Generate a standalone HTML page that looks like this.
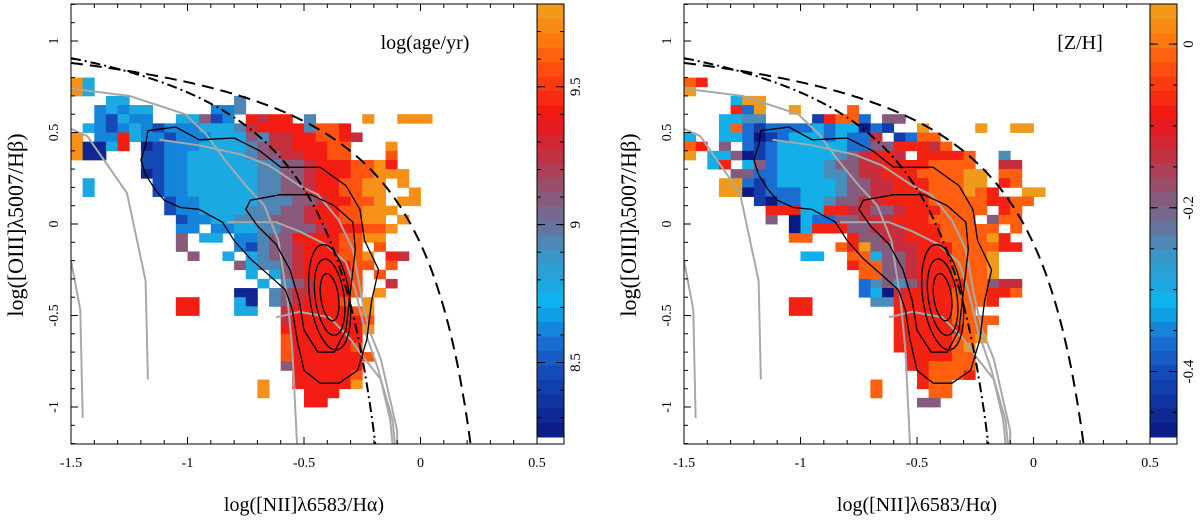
<!DOCTYPE html>
<html><head><meta charset="utf-8"><style>
html,body{margin:0;padding:0;background:#fff;}
svg{display:block;font-family:"Liberation Serif",serif;}
</style></head><body>
<svg id="fig" width="1200" height="524" viewBox="0 0 1200 524"></svg>
<script>
// ---- data ----
const xTicks = [-1.5, -1, -0.5, 0, 0.5];
const xTickLabels = ["-1.5", "-1", "-0.5", "0", "0.5"];
const yTicks = [1, 0.5, 0, -0.5, -1];
const yTickLabels = ["1", "0.5", "0", "-0.5", "-1"];
const ageCbTicks = [8.5, 9, 9.5];
const ageCbLabels = ["8.5", "9", "9.5"];
const zCbTicks = [-0.4, -0.2, 0];
const zCbLabels = ["-0.4", "-0.2", "0"];
const ageRange = [8.23, 9.80];
const zRange = [-0.48, 0.049];
// heatmap grids: each row = list of [startColumn, digit string]; digit -> colour level
const ageGrid = [
 [[0,"93"]],[[0,"93"]],[[3,"33"],[14,"4"]],[[2,"23233"],[12,"224"]],
 [[2,"21322"],[9,"33512"],[15,"7677"],[20,"4"],[25,"9"],[28,"999"]],
 [[1,"3212321222333"],[14,"4677774887"]],
 [[0,"9"],[2,"2273221222333"],[15,"5466778876"]],
 [[0,"9"],[1,"00"],[3,"37"],[6,"0122233334"],[16,"56677788"],[27,"9"]],
 [[0,"9"],[1,"00"],[6,"11223333345"],[17,"5667788"],[27,"8"]],
 [[6,"112233333344556777889"],[27,"7"]],
 [[6,"0122333333445567778899"],[28,"9"]],
 [[1,"3"],[7,"1223333334455677889"],[26,"9"],[28,"9"]],
 [[1,"3"],[7,"12233333344556778899"],[29,"9"]],
 [[8,"1223333344455677889"],[28,"99"]],
 [[8,"12233334445567788999"]],
 [[9,"122334445556778899"],[28,"9"]],
 [[9,"22"],[12,"2233445556777889"]],
 [[9,"5"],[11,"33"],[14,"22"],[16,"4557777889"],[26,"9"]],
 [[9,"5"],[14,"21"],[16,"455677788"],[26,"8"]],
 [[10,"5"],[13,"3"],[15,"34556777889"],[27,"76"]],
 [[14,"53"],[16,"4456777788"],[27,"8"]],
 [[15,"3"],[17,"35677778"],[26,"8"]],
 [[16,"3"],[18,"4567778"],[27,"6"]],
 [[14,"00"],[17,"45667778"],[26,"9"]],
 [[9,"77"],[14,"30"],[17,"4567778"],[25,"9"]],
 [[9,"77"],[14,"33"],[18,"6777778"],[25,"9"]],
 [[18,"67777778"]],[[18,"7777777"],[25,"9"]],[[18,"8777777"]],[[18,"8777778"]],
 [[18,"87777778"]],[[18,"5777777"]],[[19,"777778"]],[[16,"9"],[19,"777779"]],
 [[16,"9"],[20,"777"]],[[20,"77"]]
];
const zGrid = [
 [[0,"87"]],[[0,"9"]],[[4,"399"]],[[4,"729"],[9,"9"],[14,"8"]],
 [[3,"3344"],[11,"1788"],[15,"2"],[17,"55"]],
 [[3,"38212222323"],[14,"3021"],[20,"9"],[25,"9"],[28,"99"]],
 [[0,"3"],[3,"3320"],[7,"123332322"],[16,"6"],[18,"12"],[20,"88"]],
 [[0,"8"],[1,"7"],[3,"5"],[5,"2"],[6,"1233333322"],[16,"557776"],[22,"8"]],
 [[0,"9"],[2,"3"],[3,"35"],[5,"0"],[6,"1233333456776"],[20,"77778"],[27,"4"]],
 [[2,"37"],[5,"35"],[7,"233334556677778888"],[27,"66"]],
 [[4,"55"],[6,"22333344566777888899"],[27,"88"]],
 [[3,"99"],[5,"2"],[6,"12333334556677788899"],[27,"78"]],
 [[3,"99"],[5,"01"],[7,"22233345566777888987"],[29,"99"]],
 [[6,"1"],[7,"022334556677778888877"],[28,"88"]],
 [[7,"7773377665567778888"],[27,"78"]],
 [[7,"5"],[9,"0322556667778888"],[26,"5"],[27,"88"]],
 [[9,"03"],[11,"777"],[14,"5566677788888"],[28,"8"]],
 [[9,"88"],[14,"7556677788889"],[27,"7"]],
 [[13,"8"],[14,"79"],[16,"55667778888"],[27,"77"]],
 [[10,"33"],[14,"88"],[16,"3556777888"],[26,"9"]],
 [[14,"7"],[15,"88"],[17,"556777888"],[26,"9"]],
 [[15,"88"],[17,"556777888"],[26,"9"]],
 [[15,"2"],[16,"4545677788"],[26,"5"],[27,"66"]],
 [[15,"230"],[18,"67777888"],[26,"778"]],
 [[9,"77"],[16,"44"],[18,"77777888"],[26,"7"]],
 [[9,"77"],[18,"7777788"]],
 [[18,"77777888"],[26,"8"]],[[18,"7777778"],[25,"8"]],[[18,"77777889"]],
 [[18,"7777789"]],[[19,"777788"]],[[19,"778888"]],[[20,"78887"]],
 [[16,"8"],[20,"788"]],[[16,"8"],[21,"88"]],[[20,"55"]]
];
// grey model grids and contours (data coordinates)
const greyLines = [
 [[-1.5,0.74],[-1.25,0.70],[-1.01,0.60],[-0.92,0.49],[-0.84,0.35],[-0.75,0.21],[-0.67,0.10],[-0.61,-0.09],[-0.57,-0.42],[-0.55,-0.69],[-0.53,-1.2]],
 [[-1.12,0.46],[-0.95,0.43],[-0.77,0.38],[-0.65,0.32],[-0.52,0.21],[-0.44,0.16],[-0.35,0.02],[-0.29,-0.14],[-0.25,-0.42],[-0.22,-0.58],[-0.17,-0.74],[-0.10,-1.13],[-0.10,-1.2]],
 [[-0.83,0.01],[-0.62,0.01],[-0.52,-0.04],[-0.41,-0.11],[-0.32,-0.21],[-0.28,-0.36],[-0.24,-0.58],[-0.18,-0.80],[-0.13,-1.07],[-0.12,-1.2]],
 [[-0.62,-0.51],[-0.52,-0.48],[-0.39,-0.51],[-0.30,-0.63],[-0.25,-0.72],[-0.17,-0.85],[-0.12,-1.07],[-0.11,-1.2]],
 [[-1.5,0.52],[-1.43,0.48],[-1.26,0.17],[-1.18,-0.31],[-1.17,-0.85]],
 [[-1.5,-0.20],[-1.46,-0.47],[-1.45,-1.06]]
];
const contourOuter = [[-1.17,0.51],[-1.05,0.53],[-0.95,0.46],[-0.80,0.47],[-0.69,0.40],[-0.60,0.31],[-0.43,0.31],[-0.32,0.21],[-0.26,0.08],[-0.24,-0.09],[-0.18,-0.25],[-0.21,-0.42],[-0.23,-0.63],[-0.27,-0.80],[-0.35,-0.87],[-0.43,-0.87],[-0.50,-0.80],[-0.53,-0.63],[-0.55,-0.47],[-0.58,-0.36],[-0.65,-0.28],[-0.73,-0.19],[-0.80,-0.09],[-0.85,0.01],[-0.95,0.08],[-1.03,0.09],[-1.10,0.13],[-1.14,0.19],[-1.18,0.27],[-1.20,0.35],[-1.18,0.43]];
const contourMid = [[-0.73,0.13],[-0.60,0.16],[-0.47,0.16],[-0.37,0.10],[-0.29,0.01],[-0.28,-0.14],[-0.30,-0.36],[-0.32,-0.58],[-0.37,-0.70],[-0.44,-0.70],[-0.50,-0.58],[-0.52,-0.42],[-0.56,-0.25],[-0.62,-0.11],[-0.70,-0.01],[-0.75,0.08]];
const coreCenter = [-0.39, -0.40];
const coreRadii = [[0.085,0.29],[0.062,0.21],[0.038,0.13]];

// ---- geometry ----
const SVGNS = "http://www.w3.org/2000/svg";
const svg = document.getElementById("fig");
const PW = 466, PT = 4, PB = 444;
function mk(tag, attrs, parent) {
  const e = document.createElementNS(SVGNS, tag);
  for (const k in attrs) e.setAttribute(k, attrs[k]);
  (parent || svg).appendChild(e);
  return e;
}
const stops = [[0,[11,25,130]],[0.14,[20,70,180]],[0.22,[26,110,210]],[0.31,[10,180,240]],[0.42,[60,150,200]],[0.50,[110,110,150]],[0.58,[150,80,110]],[0.66,[200,45,60]],[0.74,[240,20,20]],[0.84,[255,70,15]],[0.93,[255,130,15]],[1,[235,160,30]]];
function cmap(t) {
  t = Math.max(0, Math.min(1, t));
  for (let i = 1; i < stops.length; i++) {
    if (t <= stops[i][0]) {
      const a = stops[i-1], b = stops[i], f = (t - a[0]) / (b[0] - a[0]);
      const c = a[1].map((v, k) => Math.round(v + (b[1][k] - v) * f));
      return `rgb(${c[0]},${c[1]},${c[2]})`;
    }
  }
  return "rgb(235,160,30)";
}

function drawPanel(ox, grid, digitToValue, range, cbTicks, cbLabels, cbMinorStep, label, labelX, name) {
  const L = 71 + ox, R = L + PW;
  const sx = x => L + (x + 1.5) * 233;
  const sy = y => 224 - y * 183;
  const g = mk("g", {});
  
  
  const clipId = "clip" + name;
  const cp = mk("clipPath", {id: clipId}, g);
  mk("rect", {x: L, y: PT, width: PW, height: PB - PT}, cp);
  const hm = mk("g", {"clip-path": `url(#${clipId})`}, g);
  
  
  grid.forEach((row, j) => {
    row.forEach(seg => {
      const start = seg[0], s = seg[1];
      for (let i = 0; i < s.length; i++) {
        const col = start + i, d = +s[i];
        const v = digitToValue(d);
        const x0 = -1.5 + 0.05 * col, y1 = 0.8 - 0.05 * j;
        const r = mk("rect", {x: sx(x0), y: sy(y1), width: 0.05 * 233 + 0.4, height: 0.05 * 183 + 0.4, fill: cmap((v - range[0]) / (range[1] - range[0]))}, hm);
        
        
      }
    });
  });
  const lines = mk("g", {"clip-path": `url(#${clipId})`, fill: "none"}, g);
  const pathOf = (pts, close) => pts.map((p, i) => (i ? "L" : "M") + sx(p[0]).toFixed(1) + "," + sy(p[1]).toFixed(1)).join("") + (close ? "Z" : "");
  greyLines.forEach(pts => {
    const p = mk("path", {d: pathOf(pts, false), stroke: "#a8a8a8", "stroke-width": 2}, lines);
    
    
  });
  [contourOuter, contourMid].forEach(pts => {
    const p = mk("path", {d: pathOf(pts, true), stroke: "#000", "stroke-width": 1.3, "stroke-linejoin": "round"}, lines);
    
    
  });
  coreRadii.forEach(rr => {
    const e = mk("ellipse", {cx: sx(coreCenter[0]), cy: sy(coreCenter[1]), rx: rr[0] * 233, ry: rr[1] * 183, stroke: "#000", "stroke-width": 1.3, transform: `rotate(-8 ${sx(coreCenter[0])} ${sy(coreCenter[1])})`}, lines);
    
    
  });
  // Kewley & Kauffmann demarcation curves
  const kew = [], kau = [];
  for (let x = -1.5; x <= 0.3; x += 0.01) {
    const yk = 0.61 / (x - 0.47) + 1.19; if (yk > -1.3) kew.push([x, yk]);
    if (x < 0.0) { const ya = 0.61 / (x - 0.05) + 1.3; if (ya > -1.3) kau.push([x, ya]); }
  }
  const kp = mk("path", {d: pathOf(kew, false), stroke: "#000", "stroke-width": 2, "stroke-dasharray": "12,7"}, lines);
  
  
  const ap = mk("path", {d: pathOf(kau, false), stroke: "#000", "stroke-width": 2, "stroke-dasharray": "10,4,2,4"}, lines);
  
  

  // axes frame
  const fr = mk("rect", {x: L, y: PT, width: PW, height: PB - PT, fill: "none", stroke: "#000", "stroke-width": 1}, g);
  
  
  for (let k = 0; k <= 20; k++) {
    const x = -1.5 + 0.1 * k, X = sx(x), len = (k % 5 === 0) ? 7 : 4;
    mk("line", {x1: X, y1: PB, x2: X, y2: PB - len, stroke: "#000"}, g);
    mk("line", {x1: X, y1: PT, x2: X, y2: PT + len, stroke: "#000"}, g);
  }
  for (let k = -12; k <= 12; k++) {
    const Y = sy(0.1 * k), len = (k % 5 === 0) ? 7 : 4;
    if (Y < PT || Y > PB) continue;
    mk("line", {x1: L, y1: Y, x2: L + len, y2: Y, stroke: "#000"}, g);
  }
  xTicks.forEach((v, i) => {
    const t = mk("text", {x: sx(v), y: 467, "font-size": 14, "text-anchor": "middle"}, g);
    t.textContent = xTickLabels[i];
    
    
  });
  yTicks.forEach((v, i) => {
    const Y = sy(v);
    const t = mk("text", {x: 0, y: 0, "font-size": 14, "text-anchor": "middle", transform: `translate(${L - 13},${Y}) rotate(-90)`}, g);
    t.textContent = yTickLabels[i];
    
    
  });
  const xt = mk("text", {x: L + 233, y: 511, "font-size": 20, "text-anchor": "middle"}, g);
  xt.textContent = "log([NII]λ6583/Hα)";
  
  
  const yt = mk("text", {x: 0, y: 0, "font-size": 22, "text-anchor": "middle", transform: `translate(${L - 48},225) rotate(-90)`}, g);
  yt.textContent = "log([OIII]λ5007/Hβ)";
  
  
  const lb = mk("text", {x: labelX, y: 49, "font-size": 20, "text-anchor": "middle"}, g);
  lb.textContent = label;
  
  

  // colorbar
  const cb = mk("g", {}, g);
  
  
  const CT = 4, CB = 437, CL = R, CW = 27;
  const nb = 30;
  for (let b = 0; b < nb; b++) {
    const y0 = CB - (b + 1) * (CB - CT) / nb;
    mk("rect", {x: CL, y: y0, width: CW, height: (CB - CT) / nb + 0.5, fill: cmap((b + 0.5) / nb)}, cb);
  }
  mk("rect", {x: CL, y: CT, width: CW, height: PB - CT, fill: "none", stroke: "#000"}, cb);
  const cy = v => CB - (v - range[0]) / (range[1] - range[0]) * (CB - CT);
  const nMin = Math.ceil(range[0] / cbMinorStep - 1e-6), nMax = Math.floor(range[1] / cbMinorStep + 1e-6);
  for (let n = nMin; n <= nMax; n++) {
    const Y = cy(n * cbMinorStep);
    mk("line", {x1: CL, y1: Y, x2: CL + 4, y2: Y, stroke: "#000"}, cb);
    mk("line", {x1: CL + CW, y1: Y, x2: CL + CW - 4, y2: Y, stroke: "#000"}, cb);
  }
  cbTicks.forEach((v, i) => {
    const Y = cy(v);
    mk("line", {x1: CL, y1: Y, x2: CL + 8, y2: Y, stroke: "#000"}, cb);
    mk("line", {x1: CL + CW, y1: Y, x2: CL + CW - 8, y2: Y, stroke: "#000"}, cb);
    const t = mk("text", {x: 0, y: 0, "font-size": 15, "text-anchor": "middle", transform: `translate(${CL + CW + 16},${Y}) rotate(-90)`}, cb);
    t.textContent = cbLabels[i];
    
    
  });
}
drawPanel(0, ageGrid, d => 8.3 + 0.16 * d, ageRange, ageCbTicks, ageCbLabels, 0.1, "log(age/yr)", 425, "age-panel");
drawPanel(613, zGrid, d => -0.48 + 0.058 * d, zRange, zCbTicks, zCbLabels, 0.05, "[Z/H]", 1080, "metallicity-panel");
</script>
</body></html>
